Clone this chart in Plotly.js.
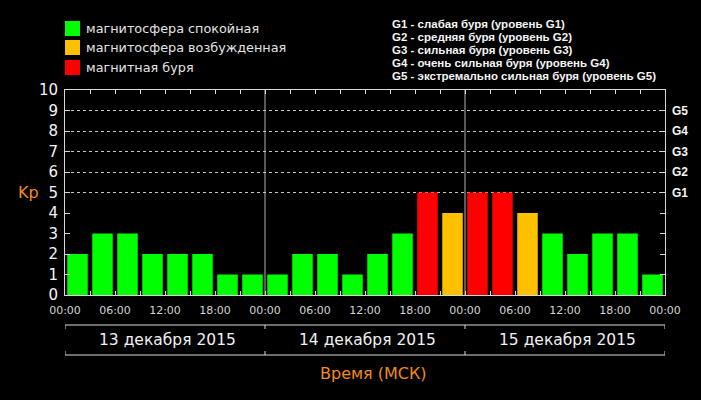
<!DOCTYPE html>
<html>
<head>
<meta charset="utf-8">
<script src="https://cdn.plot.ly/plotly-3.0.1.min.js"></script>
<style>
  html, body { margin: 0; padding: 0; background: #000; }
  #kpChart { width: 701px; height: 400px; }
</style>
</head>
<body>
<div id="kpChart"></div>
<script>
// Kp index, one value per 3-hour interval, 13-15 Dec 2015 (MSK)
const kpValues = [2, 3, 3, 2, 2, 2, 1, 1,
                  1, 2, 2, 1, 2, 3, 5, 4,
                  5, 5, 4, 3, 2, 3, 3, 1];
const dayLabels = ['13 декабря 2015', '14 декабря 2015', '15 декабря 2015'];
const hourLabels = ['00:00', '', '06:00', '', '12:00', '', '18:00', ''];
const gLevels = ['G1', 'G2', 'G3', 'G4', 'G5'];
const gLegend = [
    'G1 - слабая буря (уровень G1)',
    'G2 - средняя буря (уровень G2)',
    'G3 - сильная буря (уровень G3)',
    'G4 - очень сильная буря (уровень G4)',
    'G5 - экстремально сильная буря (уровень G5)'
];
const stateNames = ['магнитосфера спокойная', 'магнитосфера возбужденная', 'магнитная буря'];
const stateColors = ['#00ff00', '#ffc000', '#ff0000'];

const STEP = 3; // hours per bar
const hours = kpValues.map((v, i) => i * STEP + STEP / 2);
const totalHours = kpValues.length * STEP;

// pixel helpers (plot area: x 65..665, y 90..295)
const PL = 65, PR = 665, PT = 90, PB = 295;
const px = x => (x - PL) / (PR - PL);
const py = y => (PB - y) / (PB - PT);

function stateOf(v) {
    if (v >= 5) return 2;
    if (v >= 4) return 1;
    return 0;
}

const traces = stateNames.map((name, s) => ({
    type: 'bar', name: name,
    x: hours,
    y: kpValues.map(v => stateOf(v) === s ? v : null),
    width: 2.46,
    marker: { color: stateColors[s], line: { width: 0 } },
    hoverinfo: 'skip', showlegend: false
}));
// dummy trace so the right axis gets drawn
traces.push({ type: 'scatter', x: [], y: [], yaxis: 'y2', showlegend: false, hoverinfo: 'skip' });

// tick labels every 3 hours, text every 6
const xTickVals = [], xTickText = [];
for (let h = 0; h <= totalHours; h += STEP) {
    xTickVals.push(h);
    xTickText.push(hourLabels[(h / STEP) % hourLabels.length]);
}

const shapes = [];
const annotations = [];
const lineCol = '#d8d8d8';

// day dividers
for (let d = 1; d < dayLabels.length; d++) {
    shapes.push({ type: 'line', xref: 'x', yref: 'paper', x0: d * 24, x1: d * 24, y0: 0, y1: 1,
        line: { color: '#b4b4b4', width: 1 }, layer: 'below' });
}
// date brackets below the axis
shapes.push({ type: 'line', xref: 'x', yref: 'paper', x0: 0, x1: totalHours, y0: py(325), y1: py(325), line: { color: lineCol, width: 1 } });
shapes.push({ type: 'line', xref: 'x', yref: 'paper', x0: 0, x1: totalHours, y0: py(355), y1: py(355), line: { color: lineCol, width: 1 } });
for (let d = 0; d <= dayLabels.length; d++) {
    shapes.push({ type: 'line', xref: 'x', yref: 'paper', x0: d * 24, x1: d * 24, y0: py(325), y1: py(329), line: { color: lineCol, width: 1 } });
    shapes.push({ type: 'line', xref: 'x', yref: 'paper', x0: d * 24, x1: d * 24, y0: py(351), y1: py(355), line: { color: lineCol, width: 1 } });
}
dayLabels.forEach((t, d) => {
    annotations.push({ text: t, xref: 'x', yref: 'paper', x: d * 24 + 12.3, y: py(340),
        xanchor: 'center', yanchor: 'middle', showarrow: false,
        font: { family: 'DejaVu Sans', size: 15.5, color: '#f0f0f0' } });
});

// state legend (top left)
const legendTops = [21, 40, 60];
stateNames.forEach((name, s) => {
    const top = legendTops[s];
    shapes.push({ type: 'rect', xref: 'paper', yref: 'paper', x0: px(65), x1: px(80), y0: py(top), y1: py(top + 15),
        fillcolor: stateColors[s], line: { width: 0 } });
    annotations.push({ text: name, xref: 'paper', yref: 'paper', x: px(84), y: py(top + 7.5),
        xanchor: 'left', yanchor: 'middle', showarrow: false,
        font: { family: 'DejaVu Sans', size: 12.8, color: '#e4e4e4' } });
});

// G level legend (top right)
gLegend.forEach((t, i) => {
    annotations.push({ text: t, xref: 'paper', yref: 'paper', x: px(391), y: py(24 + i * 13),
        xanchor: 'left', yanchor: 'middle', showarrow: false, borderpad: 0,
        font: { family: 'Liberation Sans', size: 11.5, color: '#f4f4f4', weight: 'bold' } });
});

// axis titles
annotations.push({ text: 'Kp', xref: 'paper', yref: 'paper', x: px(28), y: py(192),
    xanchor: 'center', yanchor: 'middle', showarrow: false,
    font: { family: 'DejaVu Sans', size: 16, color: '#f08a1c' } });
annotations.push({ text: 'Время (МСК)', xref: 'paper', yref: 'paper', x: px(373), y: py(373),
    xanchor: 'center', yanchor: 'middle', showarrow: false,
    font: { family: 'DejaVu Sans', size: 16, color: '#f08a1c' } });

const layout = {
    width: 701, height: 400,
    paper_bgcolor: '#000', plot_bgcolor: '#000',
    margin: { l: PL, r: 701 - PR, t: PT, b: 400 - PB, pad: 0 },
    barmode: 'overlay',
    xaxis: {
        range: [0, totalHours], tickmode: 'array', tickvals: xTickVals, ticktext: xTickText,
        ticks: 'inside', ticklen: 4, tickcolor: lineCol, tickwidth: 1,
        showline: true, linecolor: lineCol, linewidth: 1, mirror: 'ticks',
        showgrid: false, zeroline: false, fixedrange: true,
        ticklabelstandoff: 5,
        tickfont: { family: 'DejaVu Sans', size: 11, color: '#d4d4d4' }
    },
    yaxis: {
        range: [0, 10], tickmode: 'array', tickvals: [0, 1, 2, 3, 4, 5, 6, 7, 8, 9, 10],
        ticks: 'inside', ticklen: 5, tickcolor: lineCol, tickwidth: 1,
        showline: true, linecolor: lineCol, linewidth: 1, mirror: 'ticks',
        showgrid: false, zeroline: false, fixedrange: true,
        ticklabelstandoff: 3,
        tickfont: { family: 'DejaVu Sans', size: 15, color: '#f4f4f4' }
    },
    yaxis2: {
        overlaying: 'y', side: 'right', anchor: 'x',
        range: [0, 10], tickmode: 'array', tickvals: [5, 6, 7, 8, 9], ticktext: gLevels,
        ticks: '', showline: false, zeroline: false, fixedrange: true,
        showgrid: true, gridcolor: '#c8c8c8', gridwidth: 1, griddash: 'dot',
        ticklabelstandoff: 6,
        tickfont: { family: 'Liberation Sans', size: 12, color: '#f4f4f4', weight: 'bold' }
    },
    shapes: shapes,
    annotations: annotations,
    showlegend: false
};

Plotly.newPlot('kpChart', traces, layout, { displayModeBar: false, staticPlot: true });
</script>
</body>
</html>
